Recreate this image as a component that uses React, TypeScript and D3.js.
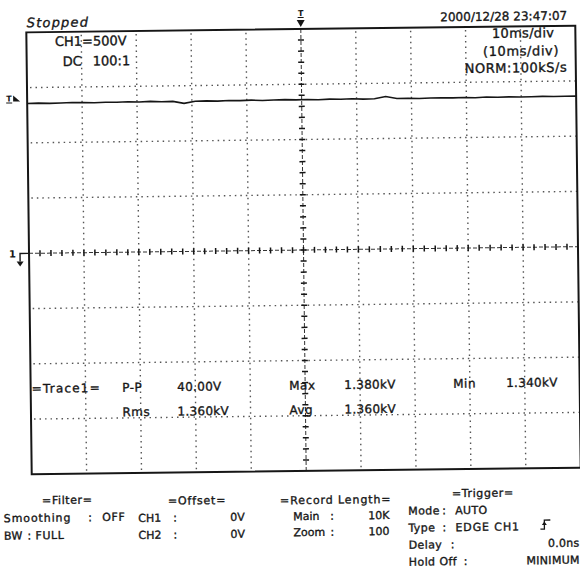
import React from "react";
import * as d3 from "d3";

// screen: 10 div x 10 ms/div, 8 div x 500 V/div
const timeDomain = [0, 100]; // ms
const voltDomain = [-2000, 2000]; // V

// CH1 trace, kV left to right
const traceKV = [
  1.356, 1.358, 1.355, 1.357, 1.36, 1.358, 1.356, 1.359, 1.357, 1.361,
  1.358, 1.362, 1.357, 1.359, 1.34, 1.358, 1.36, 1.357, 1.361, 1.359,
  1.362, 1.358, 1.36, 1.363, 1.359, 1.361, 1.358, 1.362, 1.36, 1.363,
  1.359, 1.361, 1.38, 1.36, 1.362, 1.358, 1.361, 1.363, 1.36, 1.362,
  1.359, 1.364, 1.361, 1.363, 1.36, 1.362, 1.364, 1.361, 1.363, 1.362,
];

const statusText = "Stopped";
const dateText = "2000/12/28  23:47:07";
const chText = ["CH1=500V", "DC", "100:1"];
const timebaseText = ["10ms/div", "(10ms/div)", "NORM:100kS/s"];

const traceTitle = "=Trace1=";
const measureLabels = ["P-P", "Max", "Min", "Rms", "Avg"];
const measureValues = ["40.00V", "1.380kV", "1.340kV", "1.360kV", "1.360kV"];

const filterRows = [["=Filter="], ["Smoothing", ":", "OFF"], ["BW", ":", "FULL"]];
const offsetRows = [["=Offset="], ["CH1", ":", "0V"], ["CH2", ":", "0V"]];
const recordRows = [["=Record Length="], ["Main", ":", "10K"], ["Zoom", ":", "100"]];
const triggerRows = [
  ["=Trigger="],
  ["Mode", ":", "AUTO"],
  ["Type", ":", "EDGE CH1"],
  ["Delay", ":", "0.0ns"],
  ["Hold Off", ":", "MINIMUM"],
];

const ink = "#161616";
const font = "'DejaVu Sans', Arial, sans-serif";

const App = () => {
  const left = 29, right = 578, top = 29, bottom = 471;
  const x = d3.scaleLinear().domain(timeDomain).range([left, right]);
  const y = d3.scaleLinear().domain(voltDomain).range([bottom, top]);
  const cx = x(50), cy = y(0);

  const xMajor = x.ticks(10);
  const yMajor = y.ticks(8);
  const xMinor = x.ticks(50);
  const yMinor = y.ticks(40);

  const times = traceKV.map((_, i) => (i * 100) / (traceKV.length - 1));
  const line = d3
    .line<number>()
    .x((_, i) => x(times[i]))
    .y((d) => y(d * 1000));

  // scanned print looks heavier than a plain regular face
  const T = (props: any) => (
    <text fill={ink} stroke={ink} strokeWidth={0.35} fontFamily={font} {...props} />
  );

  const mX = [120.5, 287.5, 451.5];
  const vX = [175.5, 342.5, 504.5];

  return (
    <svg
      width={580}
      height={574}
      style={{ position: "absolute", left: 0, top: 0, background: "#fff" }}
    >
      <rect width={580} height={574} fill="#fff" />
      <g transform={`rotate(-0.7 ${cx} ${cy})`}>
        {/* dotted grid */}
        {xMajor
          .filter((t) => t !== 0 && t !== 100 && t !== 50)
          .map((t) => (
            <line
              key={"gx" + t}
              x1={x(t)}
              x2={x(t)}
              y1={top + 3}
              y2={bottom}
              stroke="#555"
              strokeWidth={1.4}
              strokeDasharray="1.5 4"
            />
          ))}
        {yMajor
          .filter((v) => v !== -2000 && v !== 2000 && v !== 0)
          .map((v) => (
            <line
              key={"gy" + v}
              x1={left + 3}
              x2={right}
              y1={y(v)}
              y2={y(v)}
              stroke="#555"
              strokeWidth={1.4}
              strokeDasharray="1.5 4"
            />
          ))}

        {/* centre axes with sub-division ticks */}
        <line x1={left} x2={right} y1={cy} y2={cy} stroke="#333" strokeWidth={1} strokeDasharray="4 2" />
        <line x1={cx} x2={cx} y1={top} y2={bottom} stroke="#333" strokeWidth={1} strokeDasharray="4 2" />
        {xMinor
          .filter((t) => t !== 0 && t !== 100)
          .map((t) => (
            <line key={"tx" + t} x1={x(t)} x2={x(t)} y1={cy - 3} y2={cy + 3} stroke={ink} strokeWidth={1.5} />
          ))}
        {yMinor
          .filter((v) => v !== -2000 && v !== 2000)
          .map((v) => (
            <line key={"ty" + v} x1={cx - 3} x2={cx + 3} y1={y(v)} y2={y(v)} stroke={ink} strokeWidth={1.5} />
          ))}

        {/* screen frame */}
        <rect x={left} y={top} width={right - left} height={bottom - top} fill="none" stroke={ink} strokeWidth={2} />

        {/* trace */}
        <path d={line(traceKV) || ""} fill="none" stroke={ink} strokeWidth={1.6} />

        {/* markers */}
        <T x={cx} y={16} fontSize={8} fontWeight="bold" textAnchor="middle" strokeWidth={0}>T</T>
        <line x1={cx - 3} x2={cx + 3} y1={17.5} y2={17.5} stroke={ink} strokeWidth={1} />
        <path d={`M${cx - 4},20 L${cx + 4},20 L${cx},27 Z`} fill={ink} />
        <T x={8} y={98} fontSize={8} fontWeight="bold" strokeWidth={0}>T</T>
        <line x1={8} x2={14} y1={99.5} y2={99.5} stroke={ink} strokeWidth={1} />
        <path d="M15,92 L22,98 L15,98 Z" fill={ink} />
        <T x={9} y={254} fontSize={10} fontWeight="bold" strokeWidth={0}>1</T>
        <path d={`M20,258 V${cy} H28`} fill="none" stroke={ink} strokeWidth={1.4} />
        <path d="M16.5,258 L23.5,258 L20,263 Z" fill={ink} />

        {/* header */}
        <T x={29.5} y={24} fontSize={13} fontStyle="italic" letterSpacing={1.2}>{statusText}</T>
        <T x={570} y={23} fontSize={12} textAnchor="end">{dateText}</T>
        <T x={57.5} y={43} fontSize={13}>{chText[0]}</T>
        <T x={65} y={63} fontSize={13}>{chText[1]}</T>
        <T x={95} y={63} fontSize={13}>{chText[2]}</T>
        <T x={494.6} y={40.3} fontSize={13} letterSpacing={0.3}>{timebaseText[0]}</T>
        <T x={485.4} y={58.2} fontSize={13} letterSpacing={0.6}>{timebaseText[1]}</T>
        <T x={467} y={75} fontSize={13} letterSpacing={0.5}>{timebaseText[2]}</T>

        {/* measurements */}
        <T x={30} y={389.5} fontSize={12} letterSpacing={1.2}>{traceTitle}</T>
        {measureLabels.map((m, i) => (
          <T key={m} x={mX[i % 3]} y={i < 3 ? 389.5 : 414} fontSize={12} letterSpacing={0.5}>{m}</T>
        ))}
        {measureValues.map((v, i) => (
          <T key={"v" + i} x={vX[i % 3]} y={i < 3 ? 389.5 : 414} fontSize={12} letterSpacing={0.3}>{v}</T>
        ))}

        {/* settings panel */}
        {filterRows.map((r, i) =>
          i === 0 ? (
            <T key="f0" x={39} y={501} fontSize={11} letterSpacing={0.6}>{r[0]}</T>
          ) : (
            <g key={"f" + i}>
              <T x={0.5} y={501 + i * 17.5} fontSize={11} letterSpacing={i === 1 ? 0.9 : 0.3}>{r[0]}</T>
              <T x={i === 1 ? 85 : 24} y={501 + i * 17.5} fontSize={11}>{r[1]}</T>
              <T x={i === 1 ? 99 : 32} y={501 + i * 17.5} fontSize={11} letterSpacing={0.6}>{r[2]}</T>
            </g>
          )
        )}
        {offsetRows.map((r, i) =>
          i === 0 ? (
            <T key="o0" x={165} y={503} fontSize={11} letterSpacing={0.8}>{r[0]}</T>
          ) : (
            <g key={"o" + i}>
              <T x={135} y={503 + i * 17} fontSize={11}>{r[0]}</T>
              <T x={170} y={503 + i * 17} fontSize={11}>{r[1]}</T>
              <T x={227} y={503 + i * 17} fontSize={11}>{r[2]}</T>
            </g>
          )
        )}
        {recordRows.map((r, i) =>
          i === 0 ? (
            <T key="r0" x={277} y={504} fontSize={11} letterSpacing={0.9}>{r[0]}</T>
          ) : (
            <g key={"r" + i}>
              <T x={290} y={504 + i * 16} fontSize={11}>{r[0]}</T>
              <T x={327} y={504 + i * 16} fontSize={11}>{r[1]}</T>
              <T x={365} y={504 + i * 16} fontSize={11}>{r[2]}</T>
            </g>
          )
        )}
        {triggerRows.map((r, i) =>
          i === 0 ? (
            <T key="t0" x={449} y={499} fontSize={11} letterSpacing={0.6}>{r[0]}</T>
          ) : (
            <g key={"t" + i}>
              <T x={405} y={499 + i * 17} fontSize={11} letterSpacing={0.4}>{r[0]}</T>
              <T x={[439, 439, 447, 460][i - 1]} y={499 + i * 17} fontSize={11}>{r[1]}</T>
              <T
                x={i >= 3 ? 576 : 452}
                y={499 + i * 17}
                fontSize={11}
                textAnchor={i >= 3 ? "end" : "start"}
                letterSpacing={i === 2 ? 0.9 : 0.3}
              >
                {r[2]}
              </T>
            </g>
          )
        )}
        {/* rising edge symbol */}
        <path d="M537,532 H541 V523 H547" fill="none" stroke={ink} strokeWidth={1.3} />
        <path d="M538.5,528 L541,524.5 L543.5,528 Z" fill={ink} />
      </g>
    </svg>
  );
};

export default App;
